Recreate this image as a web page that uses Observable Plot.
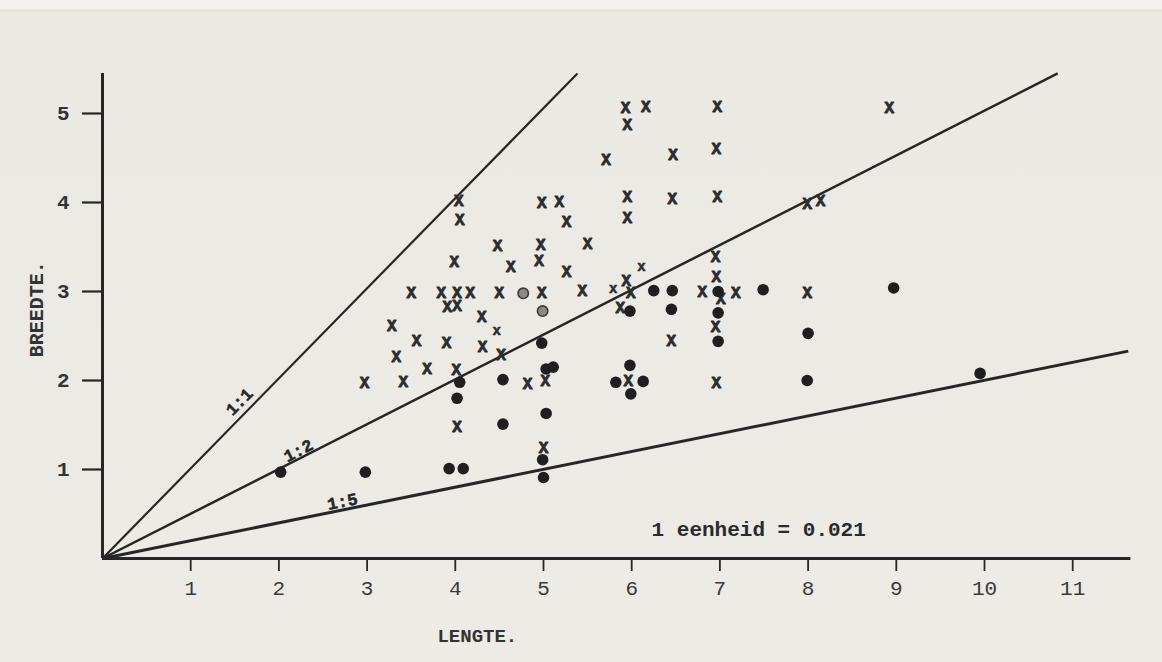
<!DOCTYPE html>
<html><head><meta charset="utf-8">
<script src="https://cdn.jsdelivr.net/npm/d3@7"></script>
<script src="https://cdn.jsdelivr.net/npm/@observablehq/plot@0.6"></script>
<style>
html,body{margin:0;padding:0;}
body{background:linear-gradient(#f3f2ec 0, #f3f2ec 9px, #e2ddc8 10px, #ebe9e3 12px, #ecebe5 100%);}
#chart{width:1162px;height:662px;overflow:hidden;}
</style></head><body><div id="chart"></div>
<script>
// ---- data ----
const xTicks = [1,2,3,4,5,6,7,8,9,10,11];
const yTicks = [1,2,3,4,5];

// typed "X" markers [lengte, breedte]
const crosses = [
  [4.04,4.02],[4.05,3.80],[4.98,4.00],[5.18,4.01],[5.26,3.78],[4.48,3.51],[4.97,3.52],[5.50,3.53],
  [3.99,3.33],[4.63,3.28],[4.95,3.34],[5.26,3.22],[3.50,2.98],[3.84,2.98],[4.02,2.98],[4.17,2.99],
  [4.50,2.98],[4.98,2.98],[5.44,3.01],[3.91,2.83],[4.02,2.84],[3.28,2.61],[4.30,2.71],[3.56,2.44],
  [3.90,2.42],[4.31,2.38],[3.33,2.27],[4.52,2.29],[3.68,2.13],[4.01,2.12],[2.97,1.97],[3.41,1.98],
  [4.82,1.96],[5.02,2.00],[4.02,1.48],[5.00,1.24],[5.93,5.06],[6.16,5.08],[6.97,5.08],[5.95,4.87],
  [5.71,4.48],[6.47,4.54],[6.96,4.60],[5.95,4.06],[6.46,4.04],[6.97,4.06],[5.95,3.83],[7.99,3.98],
  [8.14,4.02],[8.92,5.06],[6.95,3.39],[6.96,3.16],[5.94,3.12],[5.99,2.98],[6.80,3.00],[7.01,2.92],
  [7.18,2.98],[7.99,2.99],[5.87,2.82],[6.95,2.60],[6.45,2.44],[5.96,2.00],[6.96,1.97]
];
// smaller typed "x" markers
const smallCrosses = [[4.47,2.56],[6.11,3.28],[5.79,3.03]];
// filled dots
const dots = [
  [2.02,0.97],[2.98,0.97],[3.93,1.01],[4.09,1.01],[4.05,1.98],[4.02,1.80],[4.54,2.01],[4.54,1.51],
  [4.98,2.42],[5.03,2.13],[5.11,2.15],[5.03,1.63],[4.99,1.11],[5.00,0.91],[5.98,2.17],[5.82,1.98],
  [6.13,1.99],[5.99,1.85],[6.25,3.01],[6.46,3.01],[6.98,3.00],[7.49,3.02],[5.98,2.78],[6.45,2.80],
  [6.98,2.76],[6.98,2.44],[8.00,2.53],[7.99,2.00],[8.97,3.04],[9.95,2.08]
];
// pale ringed dots
const ringDots = [[4.77,2.98],[4.99,2.78]];

// ratio lines drawn from the origin to their end points
const ratioLines = [
  {ratio:"1:1", x:5.385, y:5.45, w:2.2},
  {ratio:"1:2", x:10.83, y:5.45, w:2.5},
  {ratio:"1:5", x:11.63, y:2.33, w:3}
];
const ratioLabels = [
  {text:"1:1", x:1.55, y:1.76, angle:-45.6},
  {text:"1:2", x:2.22, y:1.21, angle:-26.9},
  {text:"1:5", x:2.72, y:0.64, angle:-11.4}
];
const note = [{text:"1 eenheid = 0.021", x:7.44, y:0.326}];
const xTitle = [{text:"LENGTE.", x:4.25, y:-0.87}];
const yTitle = [{text:"BREEDTE.", x:-0.75, y:2.80}];
const axisEnds = {x:11.66, y:5.45};

const ink = "#262626";
const mono = "'Liberation Mono', 'DejaVu Sans Mono', monospace";

const plot = Plot.plot({
  width: 1162,
  height: 662,
  marginLeft: 102,
  marginRight: 1.6,
  marginTop: 68.5,
  marginBottom: 104,
  x: {domain: [0, 12]},
  y: {domain: [0, 5.5]},
  style: {background: "transparent", color: ink, fontFamily: mono},
  marks: [
    // axes
    Plot.ruleY([0], {x1: 0, x2: axisEnds.x, stroke: ink, strokeWidth: 3}),
    Plot.ruleX([0], {y1: 0, y2: axisEnds.y, stroke: ink, strokeWidth: 3}),
    Plot.axisX({ticks: xTicks, tickSize: 13, tickPadding: 9, fontSize: 21, tickFormat: d => d, stroke: ink, strokeWidth: 1.8, label: null, fill: "#3a3a3a"}),
    Plot.axisY({ticks: yTicks, tickSize: 20, tickPadding: 13, fontSize: 21, fontWeight: "bold", tickFormat: d => d, stroke: ink, strokeWidth: 2.2, label: null, fill: "#333"}),
    // ratio lines
    Plot.link(ratioLines, {x1: 0, y1: 0, x2: "x", y2: "y", stroke: ink, strokeWidth: "w"}),
    Plot.text(ratioLabels, {x: "x", y: "y", text: "text", rotate: "angle", fontSize: 17, fontWeight: "bold", fill: ink, stroke: ink, strokeWidth: 0.5}),
    // markers (typed characters)
    Plot.text(crosses, {x: d => d[0], y: d => d[1], text: () => "X", fontSize: 16, fontWeight: "bold", fill: "#2c2c2c", stroke: "#2c2c2c", strokeWidth: 0.9}),
    Plot.text(smallCrosses, {x: d => d[0], y: d => d[1], text: () => "x", fontSize: 14, fontWeight: "bold", fill: "#2c2c2c", stroke: "#2c2c2c", strokeWidth: 0.6}),
    Plot.dot(dots, {x: d => d[0], y: d => d[1], r: 5.8, fill: "#1f1f1f"}),
    Plot.dot(ringDots, {x: d => d[0], y: d => d[1], r: 5.2, fill: "#8a8a86", stroke: "#3a3a3a", strokeWidth: 1.6}),
    // texts
    Plot.text(note, {x: "x", y: "y", text: "text", fontSize: 21, fontWeight: "bold", fill: "#2a2a2a"}),
    Plot.text(xTitle, {x: "x", y: "y", text: "text", fontSize: 19, fontWeight: "bold", fill: "#333"}),
    Plot.text(yTitle, {x: "x", y: "y", text: "text", rotate: -90, fontSize: 20, fontWeight: "bold", fill: "#333"})
  ]
});
document.getElementById("chart").append(plot);
</script>
</body></html>
